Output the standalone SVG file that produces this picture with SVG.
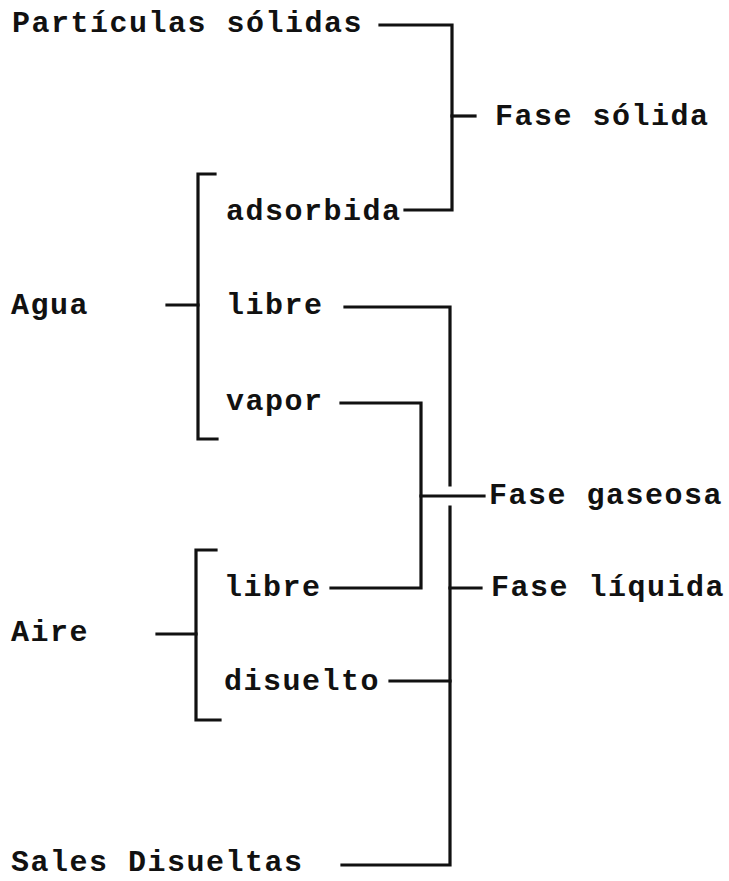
<svg xmlns="http://www.w3.org/2000/svg" width="729" height="881" viewBox="0 0 729 881">
<style>
text { font-family: "Liberation Mono", "DejaVu Sans Mono", monospace; font-weight: bold; font-size: 30px; letter-spacing: 1.5px; fill: #111; }
.ln { fill: none; stroke: #111; stroke-width: 3.2; stroke-linecap: square; stroke-linejoin: miter; }
</style>
<rect width="729" height="881" fill="#fff"/>
<g id="particulas"><text x="12" y="32">Partículas sólidas</text></g>
<g id="fase-solida"><text x="495" y="125">Fase sólida</text></g>
<g id="agua"><text x="11" y="314">Agua</text></g>
<g id="adsorbida"><text x="226" y="220">adsorbida</text></g>
<g id="agua-libre"><text x="226" y="314">libre</text></g>
<g id="vapor"><text x="226" y="410">vapor</text></g>
<g id="fase-gaseosa"><text x="489" y="504">Fase gaseosa</text></g>
<g id="aire"><text x="11" y="641">Aire</text></g>
<g id="aire-libre"><text x="224" y="596">libre</text></g>
<g id="fase-liquida"><text x="491" y="596">Fase líquida</text></g>
<g id="disuelto"><text x="224" y="690">disuelto</text></g>
<g id="sales"><text x="11" y="871">Sales Disueltas</text></g>
<g id="connectors">
<path class="ln" d="M380,25 H452 V210 H405"/>
<path class="ln" d="M452,116 H475"/>
<path class="ln" d="M215,174 H198 V439 H217"/>
<path class="ln" d="M167,305 H198"/>
<path class="ln" d="M345,307 H450 V485"/>
<path class="ln" d="M341,403 H421 V588 H331"/>
<path class="ln" d="M421,496 H484"/>
<path class="ln" d="M450,507 V865 H342"/>
<path class="ln" d="M450,588 H481"/>
<path class="ln" d="M390,681 H450"/>
<path class="ln" d="M216,550 H196 V720 H220"/>
<path class="ln" d="M157,634 H196"/>
</g>
</svg>
